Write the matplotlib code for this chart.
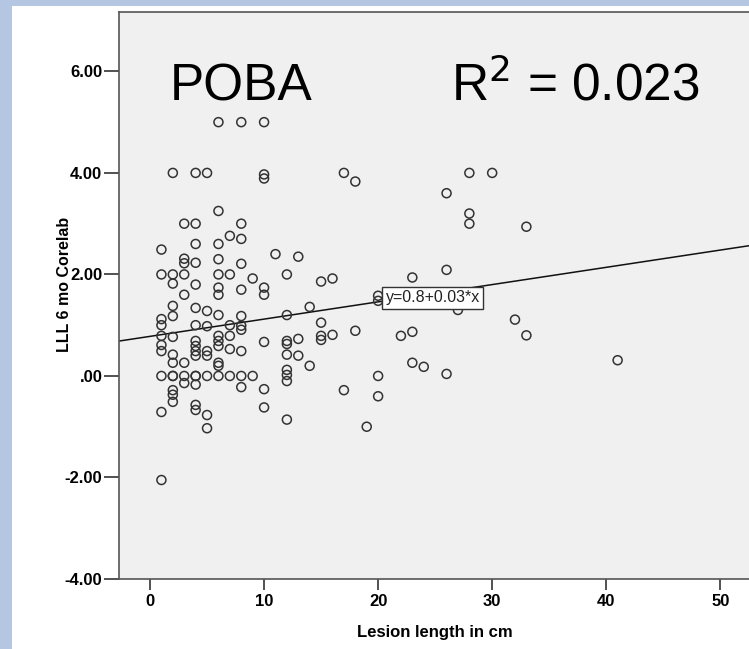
import matplotlib
matplotlib.use("Agg")
import matplotlib.pyplot as plt
from matplotlib.patches import Rectangle
import numpy as np

# ---- data ----
lesion_length = [
    6, 8, 10,
    2, 4, 5, 10, 10, 17, 18, 28, 30,
    26,
    6, 3, 4, 8, 28, 28, 33,
    7, 8,
    1, 4, 6, 11, 13,
    3, 3, 4, 6, 8,
    1, 2, 3, 6, 7, 12, 9, 15, 16, 23, 26,
    2, 4, 6, 6, 3, 8, 10, 10, 20, 20,
    2, 4, 5, 6, 1, 2, 14, 12, 8, 27, 32,
    1, 4, 5, 7, 8, 8, 15, 18,
    1, 2, 7, 6, 6, 6, 16, 15, 15, 22, 23, 33,
    1, 1, 4, 4, 4, 4, 5, 5, 7, 8, 10, 12, 12, 13, 12, 13,
    2, 2, 3, 6, 6, 14, 23, 24, 41, 12,
    1, 2, 2, 3, 4, 4, 5, 6, 7, 8, 9, 12, 20, 26,
    3, 4, 2, 2, 12, 8, 10, 17, 20,
    2, 1, 4, 4, 5, 10, 5, 12, 19,
    1,
]
lll_6mo = [
    5, 5, 5,
    4, 4, 4, 3.97, 3.89, 4, 3.83, 4, 4,
    3.6,
    3.25, 3, 3, 3, 3.2, 3, 2.94,
    2.76, 2.7,
    2.49, 2.6, 2.6, 2.4, 2.35,
    2.31, 2.22, 2.23, 2.3, 2.21,
    2, 2, 2, 2, 2, 2, 1.92, 1.86, 1.92, 1.94, 2.09,
    1.82, 1.8, 1.74, 1.6, 1.6, 1.7, 1.74, 1.6, 1.58, 1.48,
    1.38, 1.34, 1.28, 1.2, 1.12, 1.18, 1.36, 1.2, 1.18, 1.3, 1.11,
    1.0, 1.0, 0.98, 1.0, 0.99, 0.91, 1.05, 0.89,
    0.79, 0.77, 0.79, 0.79, 0.69, 0.59, 0.81, 0.79, 0.71, 0.79, 0.87, 0.8,
    0.61, 0.49, 0.69, 0.59, 0.49, 0.4, 0.49, 0.4, 0.53, 0.49, 0.67, 0.69, 0.63, 0.73, 0.42, 0.4,
    0.42, 0.26, 0.26, 0.26, 0.2, 0.2, 0.26, 0.18, 0.31, 0.12,
    0, 0, 0, 0, 0, 0, 0, 0, 0, 0, 0, 0.02, 0, 0.04,
    -0.14, -0.17, -0.28, -0.37, -0.1, -0.22, -0.26, -0.28, -0.4,
    -0.51, -0.71, -0.57, -0.67, -0.77, -0.62, -1.03, -0.86, -1.0,
    -2.05,
]
fit_intercept = 0.78
fit_slope = 0.034
fit_label = "y=0.8+0.03*x"
title_left = "POBA"
title_right = "R$^2$ = 0.023"
x_ticks = [0, 10, 20, 30, 40, 50]
y_ticks = [6, 4, 2, 0, -2, -4]
y_tick_labels = ["6.00", "4.00", "2.00", ".00", "-2.00", "-4.00"]
x_label = "Lesion length in cm"
y_label = "LLL 6 mo Corelab"

# ---- figure ----
W, H = 749, 649
fig = plt.figure(figsize=(W / 100, H / 100), dpi=100)
fig.patch.set_facecolor("#b4c6e2")
bg = Rectangle((12 / W, 0), 1 - 12 / W, 1 - 6 / H,
               transform=fig.transFigure, facecolor="white",
               edgecolor="none", zorder=-10)
fig.add_artist(bg)

ax = fig.add_axes([119 / W, 1 - 579 / H, 1 - 119 / W + 0.002, (579 - 12) / H])
ax.set_zorder(1)
ax.set_facecolor("#f0f0f0")
ax.set_xlim(-2.72, 52.65)
ax.set_ylim(-4.0, 7.17)

ax.scatter(lesion_length, lll_6mo, s=42, facecolors="none",
           edgecolors="#333333", linewidths=1.1, zorder=3)

xl = np.array(ax.get_xlim())
ax.plot(xl, fit_intercept + fit_slope * xl, color="#111111", lw=1.1, zorder=2)

sans = ["Liberation Sans", "DejaVu Sans"]
ax.text(20.65, 1.54, fit_label, fontsize=11.5, va="center", ha="left",
        family=sans, color="#222222",
        bbox=dict(boxstyle="square,pad=0.22", facecolor="white",
                  edgecolor="#333333", linewidth=1.0), zorder=4)

ax.text(1.75, 5.43, title_left, fontsize=37, family=sans,
        va="baseline", ha="left", color="black")
ax.text(26.35, 5.43, title_right, fontsize=37, family=sans,
        va="baseline", ha="left", color="black")

for s in ["left", "bottom", "top"]:
    ax.spines[s].set_color("#555555")
    ax.spines[s].set_linewidth(1.2)
ax.spines["right"].set_visible(False)

ax.set_xticks(x_ticks)
ax.set_yticks(y_ticks)
ax.set_yticklabels(y_tick_labels)
for lab in ax.get_xticklabels() + ax.get_yticklabels():
    lab.set_fontfamily(sans)
    lab.set_fontweight("bold")
    lab.set_fontsize(12)
ax.tick_params(axis="x", direction="out", length=8, width=1.2, color="#333333", pad=3)
ax.tick_params(axis="y", direction="out", length=11, width=1.2, color="#333333", pad=1)

ax.set_xlabel(x_label, fontsize=12, fontweight="bold", family=sans)
ax.xaxis.set_label_coords(0.5, -0.081)
ax.set_ylabel(y_label, fontsize=11.5, fontweight="bold", family=sans)
ax.yaxis.set_label_coords(-0.074, 0.52)

fig.savefig("out.png", dpi=100)
